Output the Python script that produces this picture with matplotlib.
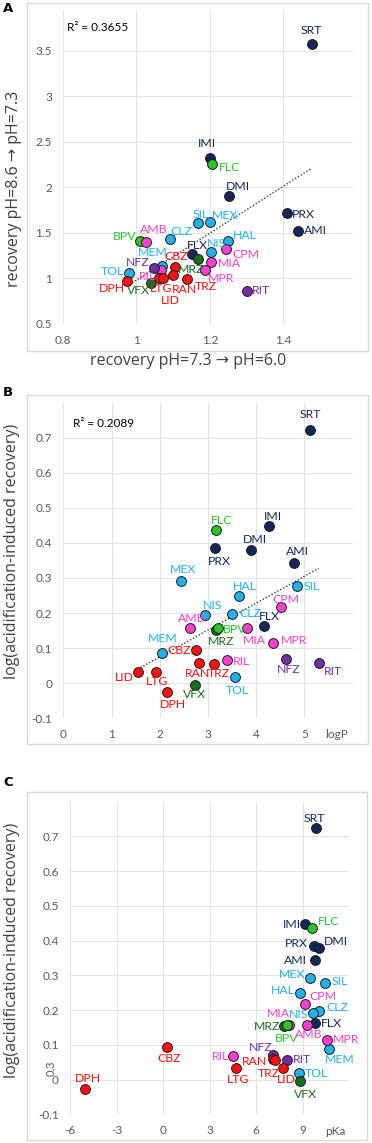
import matplotlib
matplotlib.use("Agg")
import matplotlib.pyplot as plt
import numpy as np
from matplotlib.patches import Rectangle
from matplotlib.ticker import FuncFormatter

W, H = 372, 1143

# drawing order (later ones on top)
compounds = ["SRT", "IMI", "FLC", "PRX", "DMI", "AMI", "FLX", "SIL", "MEX", "CLZ",
             "HAL", "NIS", "MEM", "TOL", "MRZ", "VFX", "MIA", "BPV", "AMB", "CPM",
             "MPR", "RIL", "NFZ", "RIT", "CBZ", "DPH", "LTG", "RAN", "TRZ", "LID"]

# recovery pH=7.3 -> pH=6.0
rec_73_60 = [1.477, 1.201, 1.205, 1.410, 1.252, 1.441, 1.152, 1.169, 1.201, 1.091,
             1.249, 1.204, 1.071, 0.979, 1.168, 1.040, 1.202, 1.011, 1.025, 1.245,
             1.188, 1.066, 1.047, 1.301, 1.104, 0.973, 1.062, 1.101, 1.139, 1.073]
# recovery pH=8.6 -> pH=7.3
rec_86_73 = [3.574, 2.328, 2.258, 1.716, 1.910, 1.525, 1.266, 1.613, 1.624, 1.438,
             1.412, 1.291, 1.141, 1.060, 1.218, 0.947, 1.185, 1.412, 1.398, 1.321,
             1.093, 1.093, 1.119, 0.866, 1.123, 0.973, 1.009, 1.038, 0.995, 1.002]
# log(acidification-induced recovery)
log_recovery = [0.723, 0.447, 0.436, 0.385, 0.380, 0.344, 0.164, 0.277, 0.292, 0.196,
                0.248, 0.193, 0.087, 0.018, 0.153, -0.005, 0.156, 0.156, 0.157, 0.217,
                0.115, 0.067, 0.070, 0.057, 0.094, -0.026, 0.032, 0.059, 0.056, 0.033]
log_p = [5.12, 4.26, 3.17, 3.14, 3.89, 4.79, 4.16, 4.84, 2.44, 3.51,
         3.64, 2.94, 2.05, 3.56, 3.17, 2.74, 3.81, 3.21, 2.63, 4.52,
         4.36, 3.39, 4.63, 5.30, 2.76, 2.15, 1.92, 2.82, 3.12, 1.54]
pka = [9.85, 9.16, 9.59, 9.72, 10.03, 9.77, 9.77, 10.43, 9.46, 10.06,
       8.82, 9.68, 10.67, 8.77, 7.79, 8.82, 8.13, 7.96, 9.25, 9.14,
       10.54, 4.52, 7.06, 7.98, 0.28, -5.03, 4.67, 7.10, 7.18, 7.75]

r2_a = "R² = 0.3655"
r2_b = "R² = 0.2089"

NAVY, LBLUE, LGREEN, DGREEN = "#13275c", "#20b2ea", "#2bc42b", "#1d6b1d"
PINK, RED, PURPLE = "#fb3fd0", "#ff1010", "#7030a0"
colors = {
    "SRT": NAVY, "IMI": NAVY, "DMI": NAVY, "PRX": NAVY, "AMI": NAVY, "FLX": NAVY,
    "SIL": LBLUE, "MEX": LBLUE, "CLZ": LBLUE, "HAL": LBLUE, "NIS": LBLUE, "MEM": LBLUE, "TOL": LBLUE,
    "FLC": LGREEN, "BPV": LGREEN, "MRZ": DGREEN, "VFX": DGREEN,
    "AMB": PINK, "CPM": PINK, "MIA": PINK, "MPR": PINK, "RIL": PINK,
    "CBZ": RED, "DPH": RED, "LTG": RED, "RAN": RED, "LID": RED, "TRZ": RED,
    "NFZ": PURPLE, "RIT": PURPLE,
}

# label placement in pixels: (dx, dy up, alignment)
labels_a = {
    "SRT": (0, 14, "center"), "IMI": (-3, 14, "center"), "FLC": (7, -4, "left"),
    "DMI": (9, 9, "center"), "PRX": (5, -1, "left"), "AMI": (6, 0, "left"),
    "SIL": (2, 8, "center"), "MEX": (15, 6, "center"), "AMB": (8, 13, "center"),
    "BPV": (-4, 4, "right"), "CLZ": (11, 7, "center"), "HAL": (5, 5, "left"),
    "NIS": (5, 9, "center"), "FLX": (5, 9, "center"), "CPM": (6, -5, "left"),
    "MEM": (-10, 13, "center"), "CBZ": (2, 11, "center"), "MRZ": (-7, -11, "center"),
    "MIA": (7, -2, "left"), "MPR": (2, -8, "left"), "NFZ": (-16, 5, "center"),
    "RIL": (-13, -6, "center"), "TOL": (-5, 2, "right"), "DPH": (-15, -8, "center"),
    "VFX": (-13, -7, "center"), "LTG": (2, -11, "center"), "RAN": (11, -14, "center"),
    "LID": (7, -22, "center"), "TRZ": (18, -8, "center"), "RIT": (5, 0, "left"),
}
labels_b = {
    "SRT": (0, 15, "center"), "FLC": (5, 10, "center"), "IMI": (4, 10, "center"),
    "PRX": (5, -13, "center"), "DMI": (4, 10, "center"), "AMI": (3, 11, "center"),
    "MEX": (2, 11, "center"), "HAL": (6, 10, "center"), "SIL": (7, 0, "left"),
    "CPM": (5, 8, "center"), "NIS": (8, 10, "center"), "CLZ": (7, 1, "left"),
    "AMB": (2, 10, "center"), "BPV": (5, -1, "left"), "MRZ": (5, -12, "center"),
    "FLX": (6, 9, "center"), "MIA": (7, -12, "center"), "MPR": (7, 2, "left"),
    "MEM": (1, 14, "center"), "CBZ": (-5, 0, "right"), "NFZ": (2, -11, "center"),
    "RIT": (14, -8, "center"), "RIL": (6, -2, "left"), "RAN": (-2, -11, "center"),
    "TRZ": (5, -10, "center"), "LID": (-4, -6, "right"), "LTG": (1, -10, "center"),
    "TOL": (3, -14, "center"), "VFX": (-1, -10, "center"), "DPH": (6, -12, "center"),
}
labels_c = {
    "SRT": (-2, 10, "center"), "IMI": (-4, 0, "right"), "FLC": (6, 7, "left"),
    "PRX": (-6, 2, "right"), "DMI": (5, 6, "left"), "AMI": (-8, 0, "right"),
    "MEX": (-5, 4, "right"), "SIL": (7, 2, "left"), "HAL": (-5, 3, "right"),
    "CPM": (4, 8, "left"), "CLZ": (7, 4, "left"), "NIS": (-5, -2, "right"),
    "MIA": (-11, 12, "center"), "FLX": (6, -1, "left"), "MRZ": (-4, 0, "right"),
    "BPV": (0, -13, "center"), "AMB": (2, -9, "center"), "MPR": (6, 0, "left"),
    "MEM": (11, -10, "center"), "NFZ": (-12, 8, "center"), "RIL": (-4, 0, "right"),
    "RAN": (-6, -2, "right"), "RIT": (6, 0, "left"), "TRZ": (-6, -13, "center"),
    "LID": (3, -11, "center"), "LTG": (3, -11, "center"), "TOL": (6, 0, "left"),
    "VFX": (6, -13, "center"), "CBZ": (2, -12, "center"), "DPH": (3, 10, "center"),
}

LABEL_FONT = ["Lato", "DejaVu Sans"]
TITLE_FONT = ["Open Sans", "DejaVu Sans"]
TICK_COLOR = "#595959"
GRID_COLOR = "#e3e3e3"


def px_axes(left, top, right, bottom):
    return [left / W, 1 - bottom / H, (right - left) / W, (bottom - top) / H]


def fig_text(fig, x, y, s, **kw):
    fig.text(x / W, 1 - y / H, s, **kw)


def setup_axes(ax, xlim, ylim, xticks, yticks):
    ax.set_xlim(*xlim)
    ax.set_ylim(*ylim)
    ax.set_xticks(xticks)
    ax.set_yticks(yticks)
    fmt = FuncFormatter(lambda v, _: f"{v:g}")
    ax.xaxis.set_major_formatter(fmt)
    ax.yaxis.set_major_formatter(fmt)
    for spine in ax.spines.values():
        spine.set_visible(False)
    ax.grid(True, color=GRID_COLOR, linewidth=0.8)
    ax.set_axisbelow(True)
    ax.tick_params(length=0, labelsize=8.5, labelcolor=TICK_COLOR, pad=8)
    for lab in ax.get_xticklabels() + ax.get_yticklabels():
        lab.set_fontfamily(LABEL_FONT)


def draw_points(ax, xs, ys, labels):
    for i, name in enumerate(compounds):
        ax.scatter(xs[i], ys[i], s=50, color=colors[name], edgecolor="#1a1a1a",
                   linewidth=0.7, zorder=3 + i * 0.01)
        dx, dy, ha = labels[name]
        ax.annotate(name, (xs[i], ys[i]), xytext=(dx, dy), textcoords="offset pixels",
                    ha=ha, va="center", fontsize=8.8, color=colors[name],
                    family=LABEL_FONT, zorder=4)


def draw_trend(ax, xs, ys):
    xs = np.asarray(xs)
    slope, icpt = np.polyfit(xs, np.asarray(ys), 1)
    xx = np.array([xs.min(), xs.max()])
    ax.plot(xx, slope * xx + icpt, color="#2c3a5a", linewidth=1.0,
            linestyle=(0, (1, 1.4)), zorder=2)


fig = plt.figure(figsize=(W / 100, H / 100), dpi=100)

# chart area frames
for left, top, right, bottom in [(27, 3, 368, 351), (27, 395, 368, 744), (27, 792, 367, 1140)]:
    fig.patches.append(Rectangle((left / W, 1 - bottom / H), (right - left) / W,
                                 (bottom - top) / H, transform=fig.transFigure,
                                 fill=False, edgecolor="#d9d9d9", linewidth=1.0))

# panel A
ax_a = fig.add_axes(px_axes(63, 10, 353, 324))
setup_axes(ax_a, (0.8, 1.59), (0.5, 3.95), [0.8, 1.0, 1.2, 1.4], [0.5, 1, 1.5, 2, 2.5, 3, 3.5])
draw_trend(ax_a, rec_73_60, rec_86_73)
draw_points(ax_a, rec_73_60, rec_86_73, labels_a)
fig_text(fig, 67, 27.5, r2_a, fontsize=8.5, family=LABEL_FONT, va="center", ha="left")
fig_text(fig, 188, 361, "recovery pH=7.3 → pH=6.0", fontsize=11.5, family=TITLE_FONT,
         color="#404040", ha="center", va="center")
fig_text(fig, 14, 189, "recovery pH=8.6 → pH=7.3", fontsize=11.5, family=TITLE_FONT,
         color="#404040", ha="center", va="center", rotation=90)

# panel B
ax_b = fig.add_axes(px_axes(63.3, 402.5, 352.5, 718.3))
setup_axes(ax_b, (0, 6), (-0.1, 0.8), [0, 1, 2, 3, 4, 5], [-0.1, 0, 0.1, 0.2, 0.3, 0.4, 0.5, 0.6, 0.7])
draw_trend(ax_b, log_p, log_recovery)
draw_points(ax_b, log_p, log_recovery, labels_b)
fig_text(fig, 73, 423.5, r2_b, fontsize=8.5, family=LABEL_FONT, va="center", ha="left")
fig_text(fig, 336, 735, "logP", fontsize=8.5, family=LABEL_FONT, color=TICK_COLOR,
         ha="center", va="center")
fig_text(fig, 12, 551, "log(acidification-induced recovery)", fontsize=11.5,
         family=TITLE_FONT, color="#404040", ha="center", va="center", rotation=90)

# panel C
ax_c = fig.add_axes(px_axes(70, 801.7, 349.3, 1114.3))
setup_axes(ax_c, (-6, 12), (-0.1, 0.8), [-6, -3, 0, 3, 6, 9], [-0.1, 0, 0.1, 0.2, 0.3, 0.4, 0.5, 0.6, 0.7])
draw_points(ax_c, pka, log_recovery, labels_c)
fig_text(fig, 335, 1131.7, "pKa", fontsize=8.5, family=LABEL_FONT, color=TICK_COLOR,
         ha="center", va="center")
fig_text(fig, 12, 950, "log(acidification-induced recovery)", fontsize=11.5,
         family=TITLE_FONT, color="#404040", ha="center", va="center", rotation=90)
fig_text(fig, 51, 1068, "0.3", fontsize=8, family=LABEL_FONT, color=TICK_COLOR,
         ha="center", va="center", rotation=90)

# panel letters
for letter, y in [("A", 8), ("B", 393), ("C", 783)]:
    fig_text(fig, 3, y, letter, fontsize=9.5, fontweight="bold", family="DejaVu Sans",
             ha="left", va="center")

fig.savefig("out.png", dpi=100)
